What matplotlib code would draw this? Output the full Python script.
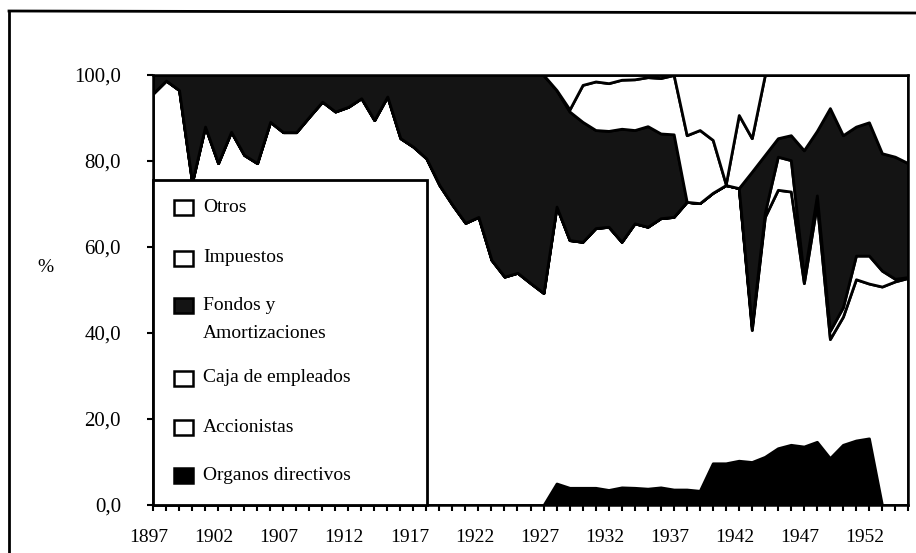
import matplotlib
matplotlib.use("Agg")
import matplotlib.pyplot as plt
from matplotlib.patches import Rectangle
from matplotlib.lines import Line2D
from matplotlib.transforms import ScaledTranslation

years = list(range(1897, 1956))

# participacion (%) de cada concepto
organos = [0] * 31 + [5.0, 4.0, 4.0, 4.0, 3.5, 4.1, 4.0, 3.8, 4.1, 3.6,
                      3.6, 3.3, 9.7, 9.7, 10.3, 10.0, 11.2, 13.2, 14.0, 13.6,
                      14.7, 10.9, 14.0, 15.0, 15.5, 0, 0, 0]
accionistas = [95.7, 98.7, 96.5, 75.0, 88.0, 79.5, 86.8, 81.4, 79.5, 89.1,
               86.7, 86.7, 90.3, 93.8, 91.5, 92.6, 94.6, 89.5, 95.0, 85.3,
               83.3, 80.6, 74.4, 69.8, 65.6, 67.0, 57.0, 53.1, 54.0, 51.6,
               49.3, 64.4, 57.6, 57.2, 60.4, 61.2, 57.1, 61.5, 60.9, 62.6,
               63.4, 66.9, 66.9, 62.9, 64.7, 63.4, 30.7, 55.8, 60.1, 58.9,
               38.0, 55.3, 27.7, 29.8, 37.5, 36.0, 50.8, 52.0, 52.8]
caja = [0] * 46 + [0.8, 1.0, 7.7, 7.3, 1.4, 2.0, 1.9, 2.2, 5.5, 6.5,
                   3.7, 0.6, 0.2]
fondos = [4.3, 1.3, 3.5, 25.0, 12.0, 20.5, 13.2, 18.6, 20.5, 10.9,
          13.3, 13.3, 9.7, 6.2, 8.5, 7.4, 5.4, 10.5, 5.0, 14.7,
          16.7, 19.4, 25.6, 30.2, 34.4, 33.0, 43.0, 46.9, 46.0, 48.4,
          50.7, 27.1, 29.9, 27.9, 22.8, 22.3, 26.3, 21.7, 23.4, 19.7,
          19.2, 0, 0, 0, 0, 0, 36.0, 13.4, 4.3, 5.8,
          29.5, 15.0, 51.8, 40.0, 30.0, 31.0, 27.3, 28.4, 26.5]
impuestos = [0] * 31 + [0, 0.5, 8.6, 11.3, 11.1, 11.4, 11.8, 11.4, 12.9, 13.8,
                        15.5, 17.0, 12.3, 0.2, 17.0, 7.8, 18.6, 14.7, 14.0, 17.5,
                        13.0, 7.7, 14.0, 12.0, 11.0, 18.2, 19.0, 20.5]
otros = [0] * 31 + [3.5, 8.0, 2.3, 1.5, 1.9, 1.1, 1.0, 0.5, 0.7, 0,
                    14.0, 12.8, 15.1, 25.4, 9.3, 14.7, 0, 0, 0, 0,
                    0, 0, 0, 0, 0, 0, 0, 0]

colores = ["black", "white", "white", "#141414", "white", "white"]

W, H = 916, 553
plt.rcParams['font.family'] = ['Liberation Serif', 'DejaVu Serif']

fig = plt.figure(figsize=(W / 100, H / 100), dpi=100)
ax = fig.add_axes([153 / W, 1 - 505 / H, (908 - 153) / W, (505 - 75) / H])

ax.stackplot(years, organos, accionistas, caja, fondos, impuestos, otros,
             colors=colores, edgecolor="black", linewidth=2)

ax.set_xlim(1897, 1955)
ax.set_ylim(0, 100)
ax.set_yticks([0, 20, 40, 60, 80, 100])
ax.set_yticklabels(["0,0", "20,0", "40,0", "60,0", "80,0", "100,0"])
ax.set_xticks(list(range(1897, 1953, 5)))
ax.set_xticklabels([str(a) for a in range(1897, 1953, 5)])
ax.set_xticks(years, minor=True)
ax.tick_params(axis="x", which="both", direction="out", length=4, width=1.5,
               pad=13, labelsize=14)
ax.tick_params(axis="y", direction="out", length=4, width=1.5, pad=19,
               labelsize=15)
for lab in ax.get_xticklabels():
    lab.set_transform(lab.get_transform() + ScaledTranslation(-4 / 100, 0, fig.dpi_scale_trans))
for s in ax.spines.values():
    s.set_linewidth(1.8)

fig.text(45 / W, 1 - 268 / H, "%", fontsize=14, ha="center", va="center")

# marco exterior del escaneo
fig.add_artist(Line2D([9 / W, 1], [1 - 11 / H, 1 - 13 / H], color="black", lw=2))
fig.add_artist(Line2D([9 / W, 9 / W], [1 - 11 / H, 0], color="black", lw=2))

# leyenda dibujada a mano
fig.add_artist(Rectangle((153 / W, 1 - 505 / H), (427 - 153) / W, (505 - 180) / H,
                         facecolor="white", edgecolor="black", lw=2,
                         transform=fig.transFigure, zorder=5))
filas = [("Otros", "white", 208), ("Impuestos", "white", 258),
         ("Fondos y", "#141414", 305), ("Caja de empleados", "white", 378),
         ("Accionistas", "white", 427), ("Organos directivos", "black", 475)]
for texto, color, yc in filas:
    fig.add_artist(Rectangle((174 / W, 1 - (yc + 7.5) / H), 19 / W, 15 / H,
                             facecolor=color, edgecolor="black", lw=1.8,
                             transform=fig.transFigure, zorder=6))
    fig.text(203 / W, 1 - yc / H, texto, fontsize=14, va="center", zorder=7)
fig.text(203 / W, 1 - 333 / H, "Amortizaciones", fontsize=14, va="center", zorder=7)

fig.savefig("out.png", dpi=100)
